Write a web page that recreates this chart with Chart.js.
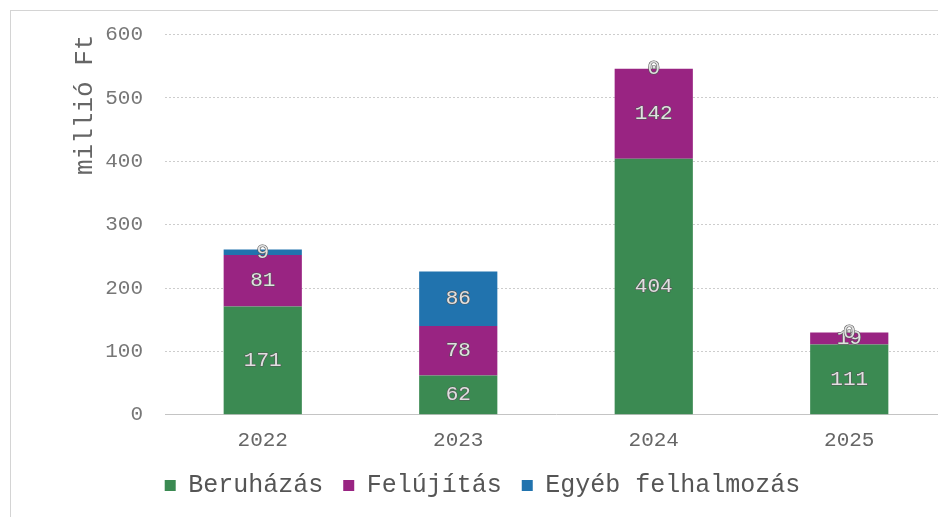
<html><head><meta charset="utf-8">
<script src="https://cdn.jsdelivr.net/npm/chart.js@4"></script>
<style>
 body { margin:0; background:#fff; overflow:hidden; }
 .frame { position:absolute; left:10px; top:10px; width:960px; height:540px; border-left:1px solid #d4d4d4; border-top:1px solid #d4d4d4; }
 .wrap { position:absolute; left:0; top:0; width:950px; height:517px; }
</style>
</head>
<body>
<div class="frame"></div>
<div class="wrap"><canvas id="myChart" width="950" height="517"></canvas></div>
<script>
var years = ['2022', '2023', '2024', '2025'];
var beruhazas = [171, 62, 404, 111];
var felujitas = [81, 78, 142, 19];
var egyeb = [9, 86, 0, 0];
var yTicks = [0, 100, 200, 300, 400, 500, 600];

var mono = "'Liberation Mono', 'DejaVu Sans Mono', monospace";

// labels in the middle of each segment
var segLabels = {
  id: 'segLabels',
  afterDatasetsDraw: function(chart) {
    var ctx = chart.ctx;
    ctx.save();
    ctx.font = '21px ' + mono;
    ctx.textAlign = 'center';
    ctx.textBaseline = 'middle';
    chart.data.datasets.forEach(function(ds, i) {
      var meta = chart.getDatasetMeta(i);
      meta.data.forEach(function(el, j) {
        var y = (el.y + el.base) / 2;
        var txt = String(ds.data[j]);
        ctx.lineWidth = 1.2;
        ctx.strokeStyle = '#555';
        ctx.strokeText(txt, el.x, y);
        ctx.fillStyle = '#e0e0e0';
        ctx.fillText(txt, el.x, y);
      });
    });
    ctx.restore();
  }
};

var ctx = document.getElementById('myChart');
var myChart = new Chart(ctx, {
  type: 'bar',
  data: {
    labels: years,
    datasets: [
      { label: 'Beruházás', data: beruhazas, backgroundColor: '#3b8a52' },
      { label: 'Felújítás', data: felujitas, backgroundColor: '#992482' },
      { label: 'Egyéb felhalmozás', data: egyeb, backgroundColor: '#2173ae' }
    ]
  },
  options: {
    responsive: false,
    animation: false,
    layout: { padding: { left: 18, top: 28, right: 3, bottom: 9 } },
    datasets: { bar: { categoryPercentage: 1, barPercentage: 0.4 } },
    plugins: {
      legend: {
        position: 'bottom',
        labels: { font: { family: mono, size: 25 }, color: '#555', boxWidth: 11, boxHeight: 11, padding: 20 }
      },
      tooltip: { enabled: false }
    },
    scales: {
      x: {
        stacked: true,
        afterFit: function(axis) { axis.height -= 5; },
        grid: { display: false },
        border: { color: '#c4c4c4', dash: [2, 2] },
        ticks: { font: { family: mono, size: 21 }, color: '#666', padding: 5 }
      },
      y: {
        stacked: true,
        min: 0, max: 600,
        afterBuildTicks: function(axis) { axis.ticks = yTicks.map(function(v) { return { value: v }; }); },
        afterFit: function(axis) { axis.width = 147; },
        grid: { color: '#cdcdcd', tickLength: 0 },
        border: { display: false, dash: [2, 2] },
        ticks: { font: { family: mono, size: 21 }, color: '#777', padding: 22 },
        title: { display: true, text: 'millió Ft', align: 'end', font: { family: mono, size: 26 }, color: '#666', padding: { top: 52, bottom: 4 } }
      }
    }
  },
  plugins: [segLabels]
});
</script>
</body></html>
